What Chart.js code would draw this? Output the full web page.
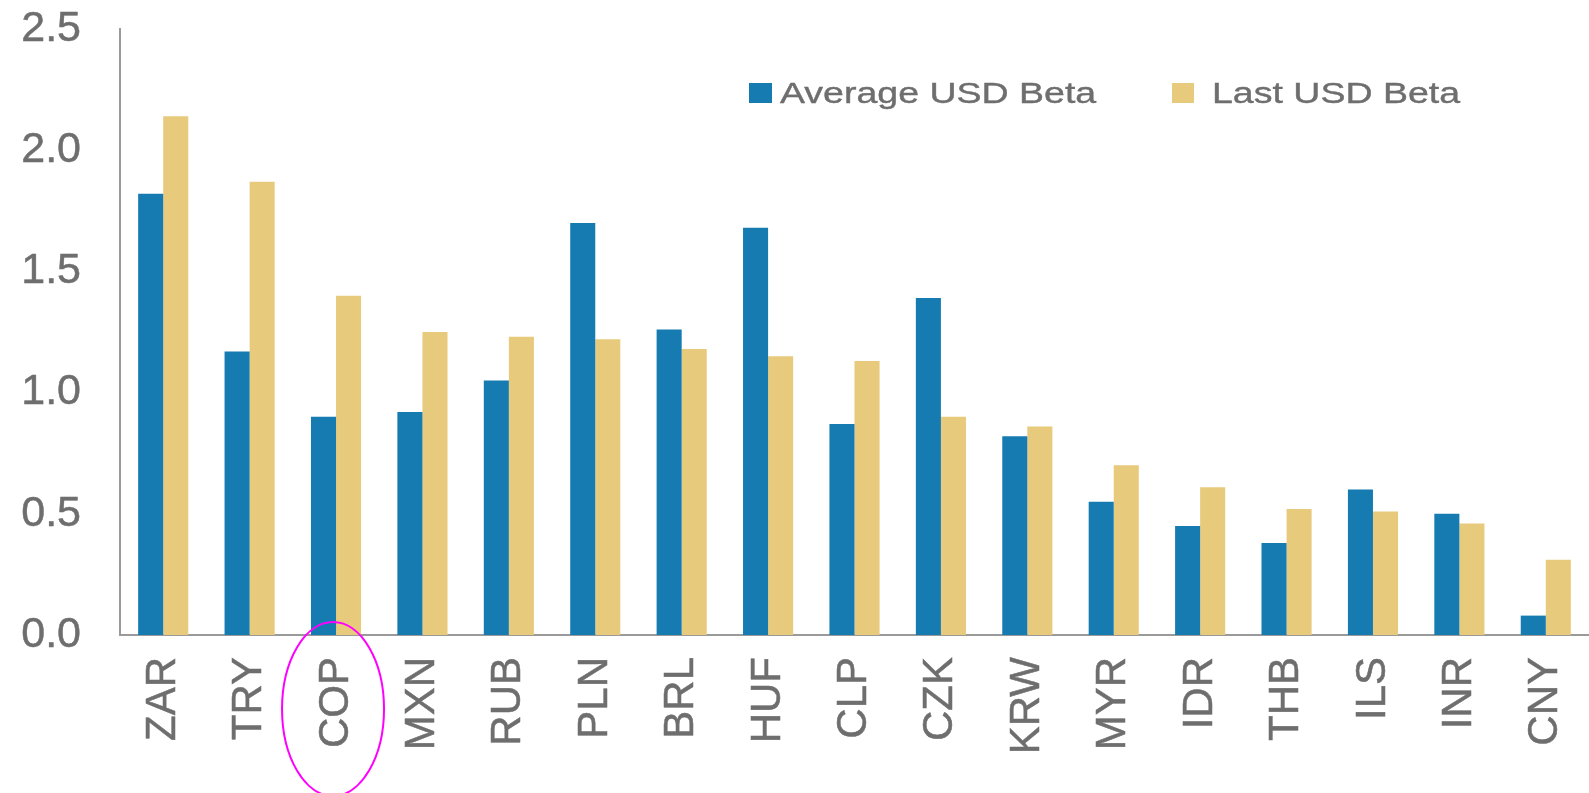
<!DOCTYPE html>
<html>
<head>
<meta charset="utf-8">
<script src="https://cdn.jsdelivr.net/npm/chart.js@4"></script>
<style>
  html, body { margin: 0; padding: 0; background: #fff; }
  #wrap { width: 1589px; height: 793px; position: relative; }
</style>
</head>
<body>
<div id="wrap"><canvas id="betaChart"></canvas></div>
<script>
const currencies = ['ZAR', 'TRY', 'COP', 'MXN', 'RUB', 'PLN', 'BRL', 'HUF', 'CLP', 'CZK', 'KRW', 'MYR', 'IDR', 'THB', 'ILS', 'INR', 'CNY'];
const averageBeta = [1.82, 1.17, 0.90, 0.92, 1.05, 1.70, 1.26, 1.68, 0.87, 1.39, 0.82, 0.55, 0.45, 0.38, 0.60, 0.50, 0.08];
const lastBeta = [2.14, 1.87, 1.40, 1.25, 1.23, 1.22, 1.18, 1.15, 1.13, 0.90, 0.86, 0.70, 0.61, 0.52, 0.51, 0.46, 0.31];
const yTicks = [0, 0.5, 1.0, 1.5, 2.0, 2.5];

const BLUE = '#167bb1';
const GOLD = '#e8ca7c';
const GREY = '#6e6e6e';
const FONT = 'Liberation Sans, Arial, sans-serif';

// legend sits inside the plot area, so draw it by hand
const insideLegend = {
  id: 'insideLegend',
  afterDraw(chart) {
    const ctx = chart.ctx;
    const spots = [
      { box: 749, w: 23, text: 780 },
      { box: 1172, w: 22, text: 1212 }
    ];
    ctx.save();
    ctx.font = '30px ' + FONT;
    ctx.textBaseline = 'alphabetic';
    chart.data.datasets.forEach((ds, i) => {
      ctx.fillStyle = ds.backgroundColor;
      ctx.fillRect(spots[i].box, 83, spots[i].w, 20);
      ctx.fillStyle = GREY;
      ctx.strokeStyle = GREY;
      ctx.lineWidth = 0.4;
      // the source legend text is drawn wide
      ctx.save();
      ctx.translate(spots[i].text, 103);
      ctx.scale(1.25, 1);
      ctx.fillText(ds.label, 0, 0);
      ctx.strokeText(ds.label, 0, 0);
      ctx.restore();
    });
    ctx.restore();
  }
};

// magenta ring around the COP label
const ring = {
  id: 'ring',
  afterDraw(chart) {
    const ctx = chart.ctx;
    const x = chart.scales.x.getPixelForValue(currencies.indexOf('COP'));
    ctx.save();
    ctx.strokeStyle = '#ff00ff';
    ctx.lineWidth = 2;
    ctx.beginPath();
    ctx.ellipse(x - 3, 709, 51, 87, 0, 0, Math.PI * 2);
    ctx.stroke();
    ctx.restore();
  }
};

new Chart(document.getElementById('betaChart').getContext('2d'), {
  type: 'bar',
  data: {
    labels: currencies,
    datasets: [
      { label: 'Average USD Beta', data: averageBeta, backgroundColor: BLUE },
      { label: 'Last USD Beta', data: lastBeta, backgroundColor: GOLD }
    ]
  },
  options: {
    responsive: true,
    maintainAspectRatio: false,
    animation: false,
    layout: { padding: { left: 20, top: 29, right: 0, bottom: 0 } },
    datasets: {
      bar: { categoryPercentage: 0.58, barPercentage: 1.0 }
    },
    scales: {
      x: {
        grid: { display: false, drawTicks: false },
        border: { display: true, color: '#9a9a9a', width: 2 },
        ticks: {
          color: GREY,
          textStrokeColor: GREY,
          textStrokeWidth: 0.5,
          font: { family: FONT, size: 42 },
          minRotation: 90,
          maxRotation: 90,
          padding: 22,
          autoSkip: false
        },
        afterFit(scale) {
          scale.height = 158;
          scale.paddingLeft = 0;
          scale.paddingRight = 0;
        }
      },
      y: {
        min: 0,
        max: 2.5,
        afterBuildTicks(scale) { scale.ticks = yTicks.map(v => ({ value: v })); },
        grid: { display: false, drawTicks: false },
        border: { display: true, color: '#9a9a9a', width: 2 },
        ticks: {
          color: GREY,
          textStrokeColor: GREY,
          textStrokeWidth: 0.5,
          font: { family: FONT, size: 43 },
          padding: 39,
          callback: v => v.toFixed(1)
        },
        afterFit(scale) {
          scale.width = 100;
          scale.paddingTop = 0;
          scale.paddingBottom = 0;
        }
      }
    },
    plugins: {
      legend: { display: false },
      tooltip: { enabled: false }
    }
  },
  plugins: [insideLegend, ring]
});
</script>
</body>
</html>
